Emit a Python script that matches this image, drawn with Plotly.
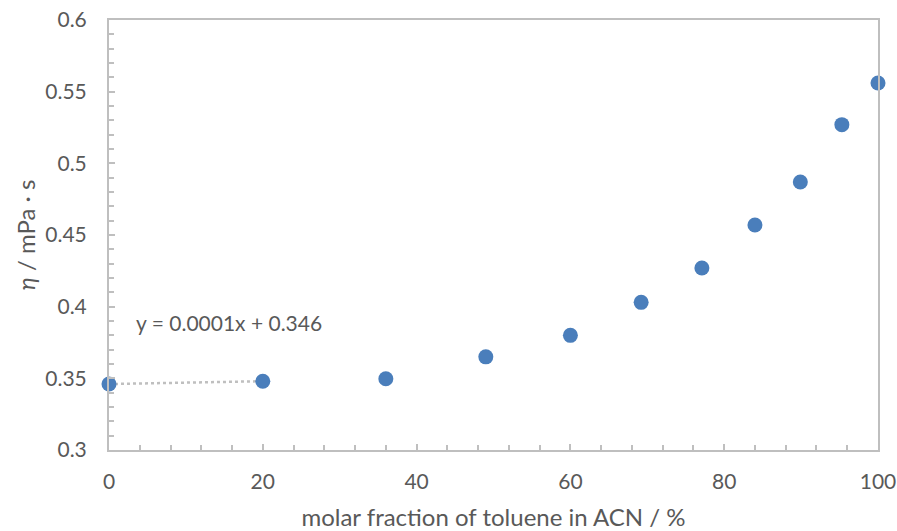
import numpy as np
import plotly.graph_objects as go

x_frac = [0, 20, 36, 49, 60, 69.2, 77.1, 84, 89.9, 95.3, 100]
viscosity = [0.346, 0.348, 0.3497, 0.365, 0.380, 0.403, 0.427, 0.457, 0.487, 0.527, 0.556]
trend_x = [0, 20]
eq_text = "y = 0.0001x + 0.346"
y_title = "<i>η</i> / mPa · s"
x_title = "molar fraction of toluene in ACN / %"

slope, intercept = np.polyfit(x_frac[:2], viscosity[:2], 1)
trend_y = [slope * v + intercept for v in trend_x]

grey = "#595959"
line_grey = "#BFBFBF"
font = "Lato, Liberation Sans, sans-serif"

fig = go.Figure()
fig.add_trace(go.Scatter(x=trend_x, y=trend_y, mode="lines",
                         line=dict(color=line_grey, width=2.5, dash="dot"),
                         showlegend=False, hoverinfo="skip"))
fig.add_trace(go.Scatter(x=x_frac, y=viscosity, mode="markers",
                         marker=dict(color="#4A7EBB", size=15),
                         showlegend=False, cliponaxis=False))

fig.add_annotation(x=3.2, y=0.389, xref="x", yref="y", text=eq_text,
                   showarrow=False, xanchor="left", yanchor="middle",
                   font=dict(family=font, size=21, color=grey))

fig.add_annotation(x=-0.109, y=0.5, xref="paper", yref="paper", text=y_title,
                   showarrow=False, xanchor="center", yanchor="middle", textangle=-90,
                   font=dict(family=font, size=24, color=grey))

fig.update_layout(
    width=897, height=531,
    margin=dict(l=109, r=19, t=20, b=81),
    plot_bgcolor="white", paper_bgcolor="white",
    font=dict(family=font, size=21, color=grey),
    xaxis=dict(range=[0, 100], tick0=0, dtick=20, showgrid=False, zeroline=False,
               automargin=False,
               showline=True, linecolor=line_grey, linewidth=2, mirror=True,
               ticks="inside", ticklen=6, tickcolor=line_grey, tickwidth=1.5,
               minor=dict(dtick=4, ticks="inside", ticklen=5, tickcolor=line_grey, tickwidth=1.5),
               tickfont=dict(size=21, color=grey), ticklabelstandoff=12,
               title=dict(text=x_title, font=dict(size=24, color=grey), standoff=22)),
    yaxis=dict(range=[0.3, 0.6], tick0=0.3, dtick=0.05, showgrid=False, zeroline=False,
               automargin=False,
               showline=True, linecolor=line_grey, linewidth=2, mirror=True,
               ticks="inside", ticklen=6, tickcolor=line_grey, tickwidth=1.5,
               minor=dict(dtick=0.01, ticks="inside", ticklen=5, tickcolor=line_grey, tickwidth=1.5),
               tickfont=dict(size=21, color=grey), tickformat="~g", ticklabelstandoff=16),
)

fig.write_html("out.html")
